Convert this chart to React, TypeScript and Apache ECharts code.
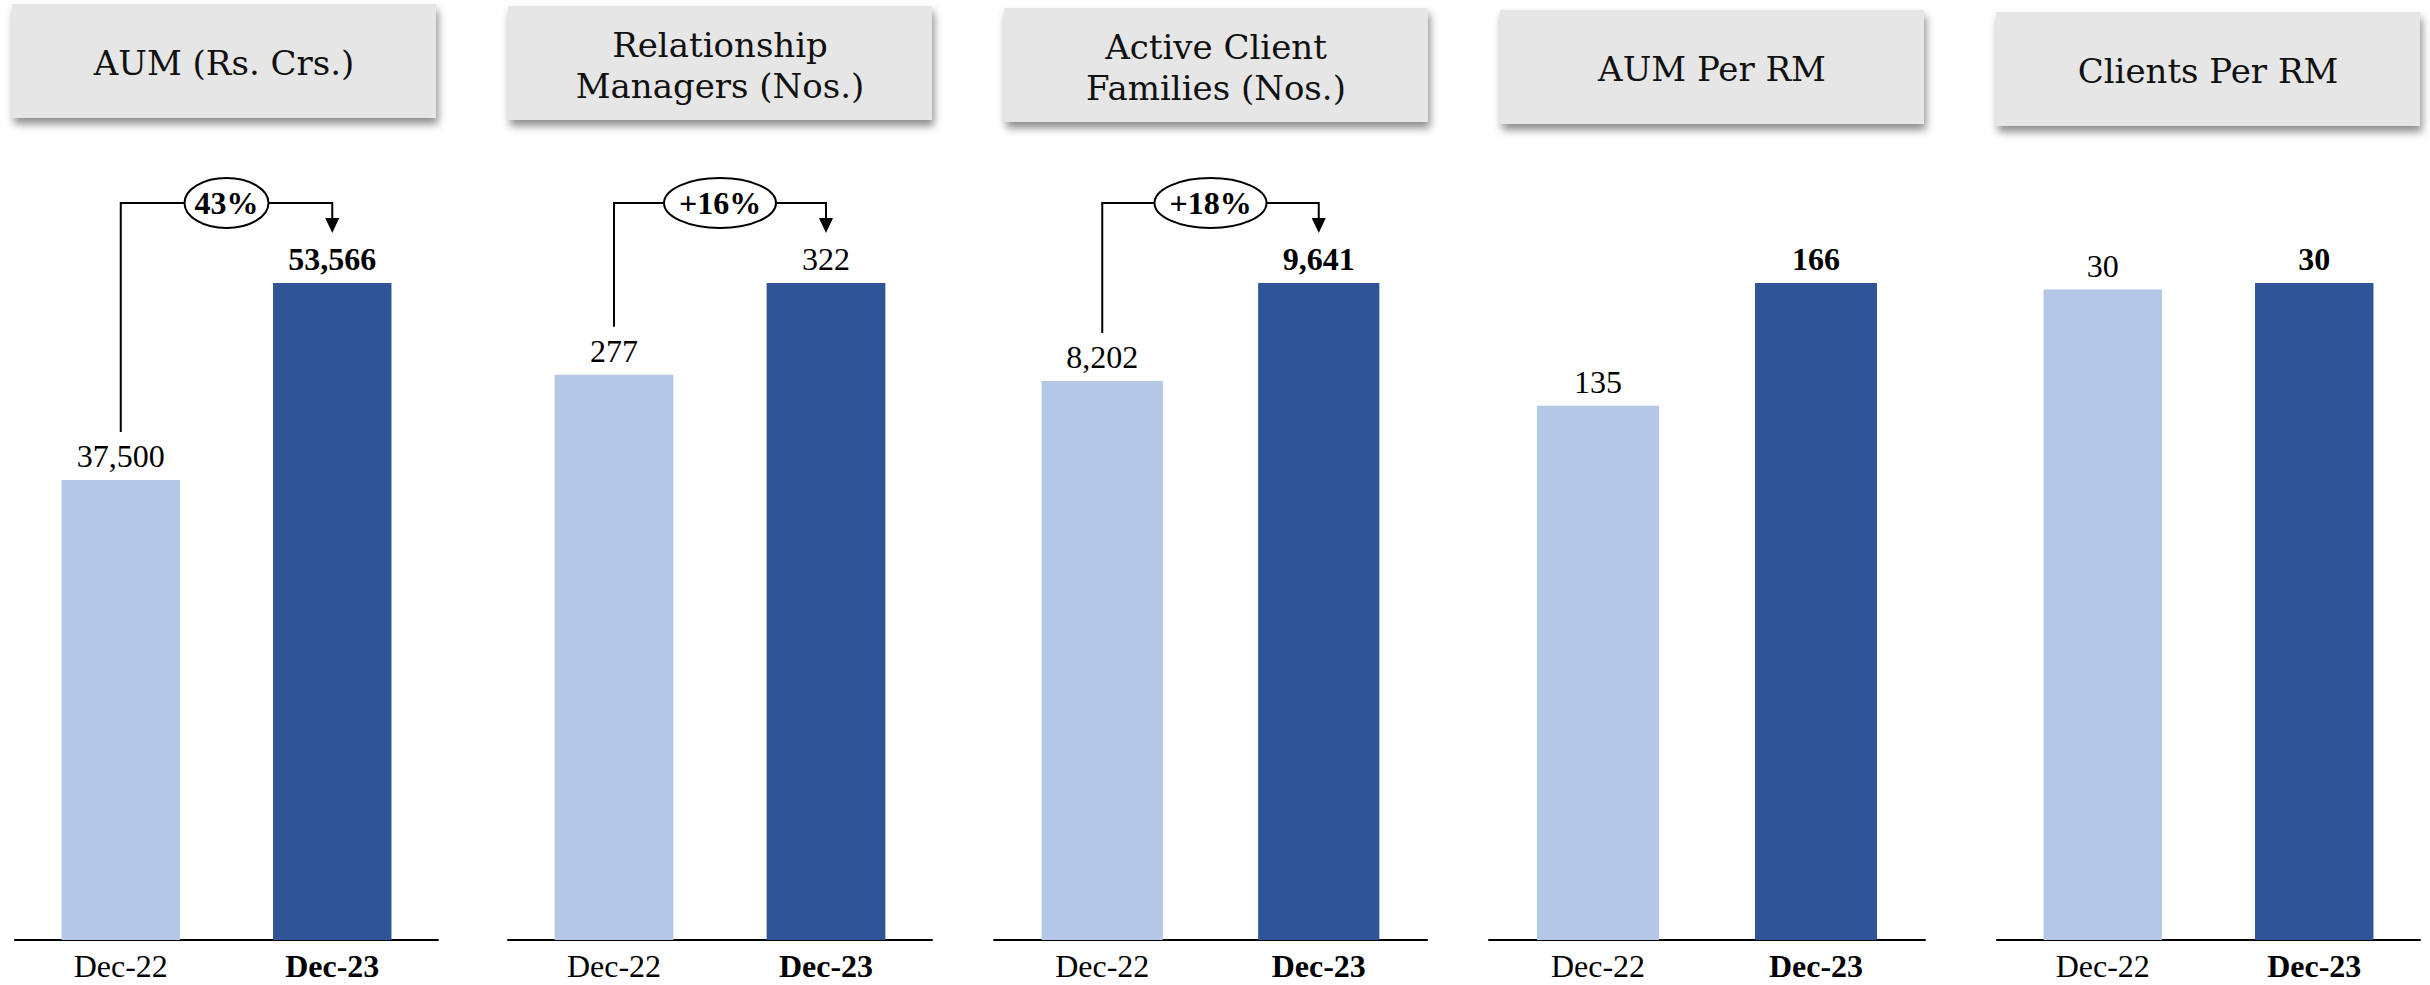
import React, { useEffect, useRef } from "react";
import * as echarts from "echarts";

const categories = ["Dec-22", "Dec-23"];
const panelTitles = [
  "AUM (Rs. Crs.)",
  "Relationship\nManagers (Nos.)",
  "Active Client\nFamilies (Nos.)",
  "AUM Per RM",
  "Clients Per RM",
];
const aumValues = [37500, 53566];
const relationshipManagers = [277, 322];
const activeClientFamilies = [8202, 9641];
const aumPerRM = [135, 166];
const clientsPerRM = [29.6, 29.9];
const growthLabels = ["43%", "+16%", "+18%", "", ""];
// whether the Dec-23 value label is bold in each panel
const latestLabelBold = [true, false, true, true, true];

const panelValues = [aumValues, relationshipManagers, activeClientFamilies, aumPerRM, clientsPerRM];

// layout (pixels)
const gridLeft = [15, 508, 994, 1489, 1997];
const gridWidth = [423, 424, 433, 436, 423];
const gridTop = 283;
const gridBottom = 45;
const headerX = [12, 508, 1004, 1500, 1996];
const headerY = [4, 6, 8, 10, 12];
const headerW = 424;
const headerH = 114;

const LIGHT = "#b4c7e7";
const DARK = "#2f5597";
const NUM_FONT = '"Liberation Serif", "Times New Roman", serif';
const HEAD_FONT = '"DejaVu Serif", serif';

export default function App() {
  const ref = useRef<HTMLDivElement>(null);

  useEffect(() => {
    if (!ref.current) return;
    const chart = echarts.init(ref.current, undefined, { renderer: "svg" });

    const grids = panelValues.map((_, i) => ({
      left: gridLeft[i],
      width: gridWidth[i],
      top: gridTop,
      bottom: gridBottom,
      containLabel: false,
    }));

    const xAxes = panelValues.map((_, i) => ({
      type: "category",
      gridIndex: i,
      data: categories,
      axisTick: { show: false },
      axisLine: { lineStyle: { color: "#000", width: 2 } },
      axisLabel: {
        margin: 10,
        formatter: (v: string, idx: number) => (idx === 1 ? `{b|${v}}` : `{n|${v}}`),
        rich: {
          n: { fontFamily: NUM_FONT, fontSize: 32, color: "#000", fontWeight: "normal" },
          b: { fontFamily: NUM_FONT, fontSize: 32, color: "#000", fontWeight: "bold" },
        },
      },
    }));

    const yAxes = panelValues.map((vals, i) => ({
      type: "value",
      gridIndex: i,
      min: 0,
      max: Math.max(...vals),
      show: false,
      splitLine: { show: false },
    }));

    const series = panelValues.map((vals, i) => ({
      type: "bar",
      xAxisIndex: i,
      yAxisIndex: i,
      barWidth: "56%",
      data: vals.map((v, j) => ({
        value: v,
        itemStyle: { color: j === 0 ? LIGHT : DARK },
        label: { fontWeight: j === 1 && latestLabelBold[i] ? "bold" : "normal" },
      })),
      label: {
        show: true,
        position: "top",
        distance: 8,
        fontFamily: NUM_FONT,
        fontSize: 32,
        color: "#000",
        formatter: (p: any) => Math.round(p.value).toLocaleString("en-US"),
      },
    }));

    chart.setOption({
      animation: false,
      backgroundColor: "#fff",
      grid: grids,
      xAxis: xAxes,
      yAxis: yAxes,
      series,
    });

    const elements: any[] = [];
    panelTitles.forEach((t, i) => {
      elements.push({
        type: "rect",
        shape: { x: headerX[i], y: headerY[i], width: headerW, height: headerH },
        style: {
          fill: "#e6e6e6",
          shadowBlur: 8,
          shadowOffsetX: 2,
          shadowOffsetY: 6,
          shadowColor: "rgba(0,0,0,0.45)",
        },
        z: 10,
      });
      elements.push({
        type: "text",
        x: headerX[i] + headerW / 2,
        y: headerY[i] + headerH / 2 + 2,
        style: {
          text: t,
          fill: "#111",
          font: `34px ${HEAD_FONT}`,
          textAlign: "center",
          textVerticalAlign: "middle",
          align: "center",
          verticalAlign: "middle",
          lineHeight: 41,
        },
        z: 11,
      });
    });

    panelValues.forEach((vals, i) => {
      const g = growthLabels[i];
      if (!g) return;
      const p0 = chart.convertToPixel({ gridIndex: i }, [0, vals[0]]) as number[];
      const p1 = chart.convertToPixel({ gridIndex: i }, [1, vals[1]]) as number[];
      const x1 = p0[0];
      const x2 = p1[0];
      const yStart = p0[1] - 48;
      const yBracket = p1[1] - 80;
      const tip = p1[1] - 50;
      elements.push({
        type: "polyline",
        shape: {
          points: [
            [x1, yStart],
            [x1, yBracket],
            [x2, yBracket],
            [x2, tip - 12],
          ],
        },
        style: { stroke: "#000", lineWidth: 2, fill: null },
        z: 12,
      });
      elements.push({
        type: "polygon",
        shape: {
          points: [
            [x2 - 7, tip - 15],
            [x2 + 7, tip - 15],
            [x2, tip],
          ],
        },
        style: { fill: "#000" },
        z: 12,
      });
      elements.push({
        type: "ellipse",
        shape: { cx: (x1 + x2) / 2, cy: yBracket, rx: 14 * g.length, ry: 25 },
        style: { fill: "#fff", stroke: "#000", lineWidth: 2 },
        z: 13,
      });
      elements.push({
        type: "text",
        x: (x1 + x2) / 2,
        y: yBracket,
        style: {
          text: g,
          fill: "#000",
          font: `bold 32px ${NUM_FONT}`,
          textAlign: "center",
          textVerticalAlign: "middle",
          align: "center",
          verticalAlign: "middle",
        },
        z: 14,
      });
    });

    chart.setOption({ graphic: { elements } });

    return () => chart.dispose();
  }, []);

  return (
    <div
      ref={ref}
      style={{ position: "fixed", left: 0, top: 0, width: 2430, height: 985, background: "#fff" }}
    />
  );
}
